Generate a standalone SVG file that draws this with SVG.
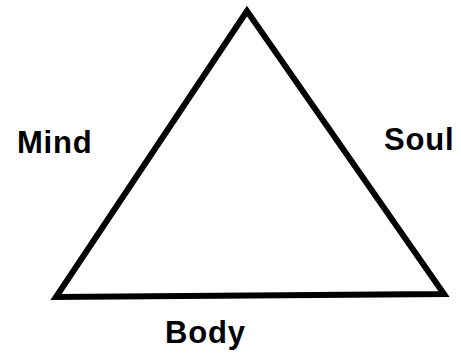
<svg xmlns="http://www.w3.org/2000/svg" width="461" height="353" viewBox="0 0 461 353">
<style>
.lbl{font-family:"Liberation Sans",Arial,sans-serif;font-weight:bold;font-size:31px;fill:#000;letter-spacing:0.8px}
.edge{fill:none;stroke:#000;stroke-width:6;stroke-linejoin:miter;stroke-linecap:round}
</style>
<rect width="461" height="353" fill="#fff"/>
<g id="connectors">
<polygon class="edge" points="247,11 56,297 444,294"/>
</g>
<g id="mind"><text class="lbl" x="17" y="153">Mind</text></g>
<g id="soul"><text class="lbl" x="384" y="150">Soul</text></g>
<g id="body"><text class="lbl" x="165" y="343">Body</text></g>
</svg>
